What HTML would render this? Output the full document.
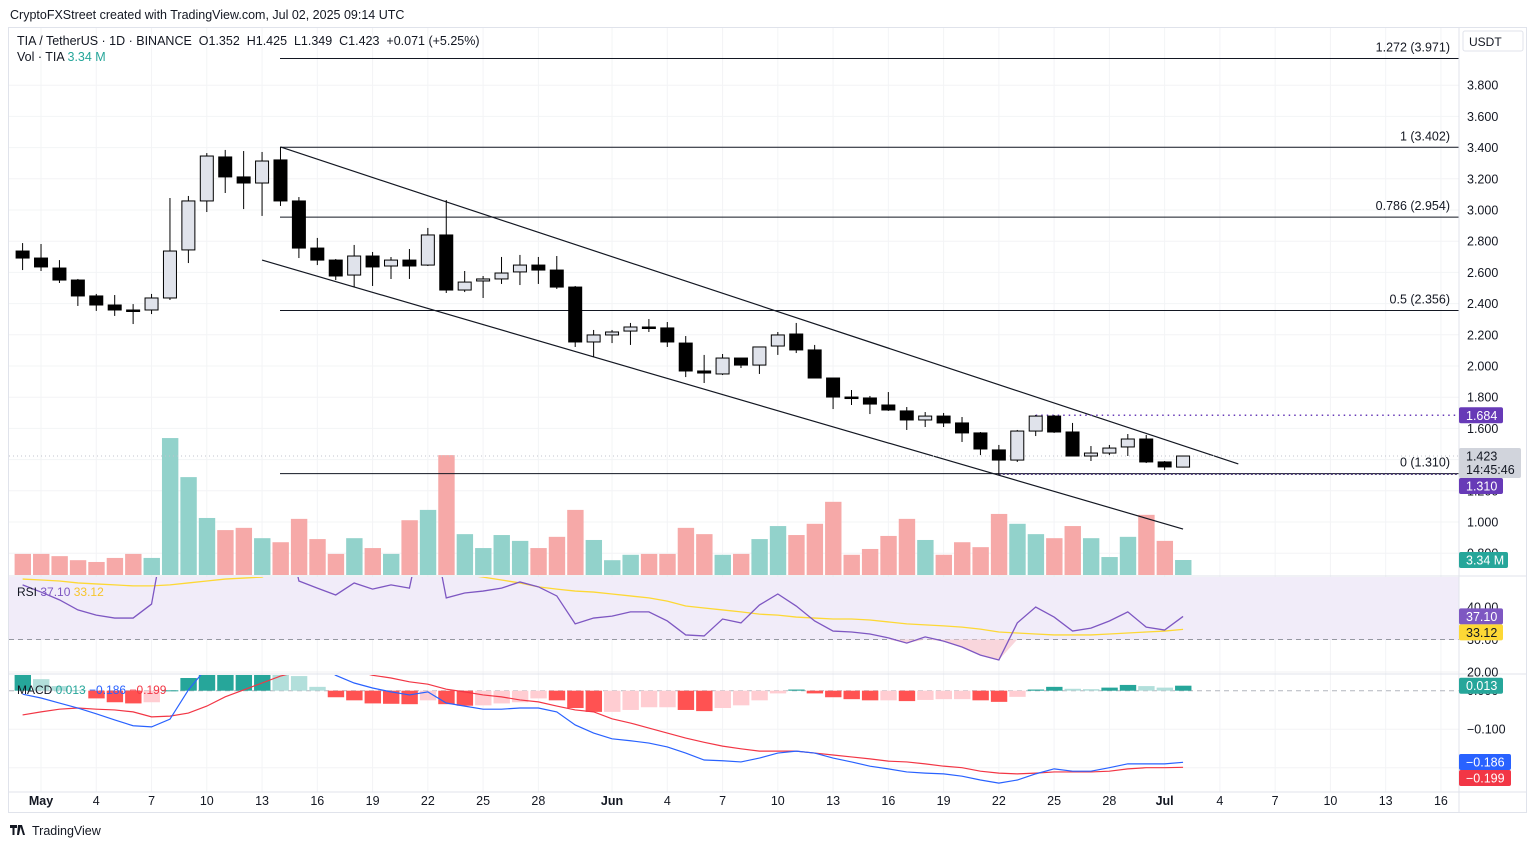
<!DOCTYPE html>
<html><head><meta charset="utf-8">
<style>
html,body{margin:0;padding:0;background:#fff;}
body{width:1536px;height:847px;overflow:hidden;font-family:"Liberation Sans",sans-serif;position:relative;}
svg text{font-family:"Liberation Sans",sans-serif;}
</style></head>
<body>
<svg id="chart" width="1536" height="847" viewBox="0 0 1536 847" xmlns="http://www.w3.org/2000/svg">
<defs>
<clipPath id="clipMain"><rect x="9" y="28" width="1450" height="548"/></clipPath>
<clipPath id="clipRsi"><rect x="9" y="577" width="1450" height="97"/></clipPath>
<clipPath id="clipMacd"><rect x="9" y="675" width="1450" height="117"/></clipPath>
</defs>
<text x="10" y="19" font-size="12.5" fill="#131722">CryptoFXStreet created with TradingView.com, Jul 02, 2025 09:14 UTC</text>
<rect x="8.5" y="27.5" width="1518" height="785" fill="none" stroke="#e0e3eb"/>
<g id="grid"></g>
<rect x="9" y="577" width="1450" height="63" fill="#f1ecf9"/>
<g id="main" clip-path="url(#clipMain)"></g>
<g id="rsi" clip-path="url(#clipRsi)"></g>
<g id="macd" clip-path="url(#clipMacd)"></g>
<line x1="1459" y1="28" x2="1459" y2="812" stroke="#e0e3eb"/>
<line x1="9" y1="576" x2="1526" y2="576" stroke="#e0e3eb"/>
<line x1="9" y1="674" x2="1526" y2="674" stroke="#e0e3eb"/>
<line x1="9" y1="792" x2="1526" y2="792" stroke="#e0e3eb"/>
<g id="axis"></g>
<text x="17" y="45" font-size="12.5" fill="#131722" xml:space="preserve">TIA / TetherUS · 1D · BINANCE  O1.352  H1.425  L1.349  C1.423  +0.071 (+5.25%)</text>
<text x="17" y="61" font-size="12.5" fill="#131722">Vol · TIA <tspan fill="#26a69a">3.34 M</tspan></text>
<text x="17" y="596" font-size="12" fill="#131722">RSI <tspan fill="#7e57c2">37.10</tspan> <tspan fill="#f7c52b">33.12</tspan></text>
<text x="17" y="694" font-size="12" fill="#131722">MACD <tspan fill="#26a69a">0.013</tspan> <tspan fill="#2962ff">−0.186</tspan> <tspan fill="#f23645">−0.199</tspan></text>
<rect x="1463" y="31" width="60" height="20" fill="#fff" stroke="#e0e3eb" rx="2"/>
<text x="1469" y="46" font-size="12" fill="#131722">USDT</text>
<g>
<path d="M10 825h7v3h-2.5v7h-2v-7H10z M18 825h3l-2 10h-2z M20 825l2 0 3 10h-2z" fill="#131722"/>
<text x="32" y="835" font-size="12.5" fill="#131722">TradingView</text>
</g>
</svg>
<script>
// ---- data ----
const dates = ["Apr30","May1","May2","May3","May4","May5","May6","May7","May8","May9","May10","May11","May12","May13","May14","May15","May16","May17","May18","May19","May20","May21","May22","May23","May24","May25","May26","May27","May28","May29","May30","May31","Jun1","Jun2","Jun3","Jun4","Jun5","Jun6","Jun7","Jun8","Jun9","Jun10","Jun11","Jun12","Jun13","Jun14","Jun15","Jun16","Jun17","Jun18","Jun19","Jun20","Jun21","Jun22","Jun23","Jun24","Jun25","Jun26","Jun27","Jun28","Jun29","Jun30","Jul1","Jul2"];
const opens = [2.737,2.692,2.628,2.551,2.449,2.391,2.359,2.359,2.436,2.744,3.058,3.340,3.212,3.173,3.321,3.058,2.756,2.679,2.583,2.705,2.641,2.679,2.647,2.840,2.487,2.545,2.558,2.603,2.647,2.615,2.506,2.154,2.199,2.224,2.250,2.244,2.147,1.968,1.949,2.051,2.006,2.128,2.205,2.103,1.923,1.801,1.795,1.750,1.712,1.654,1.679,1.635,1.571,1.462,1.397,1.583,1.679,1.577,1.423,1.442,1.481,1.532,1.385,1.352];
const highs = [2.788,2.782,2.679,2.558,2.462,2.455,2.397,2.462,3.077,3.090,3.365,3.385,3.378,3.372,3.404,3.083,2.821,2.686,2.776,2.731,2.699,2.750,2.885,3.064,2.609,2.577,2.699,2.712,2.699,2.705,2.513,2.231,2.231,2.276,2.301,2.282,2.192,2.071,2.077,2.051,2.122,2.218,2.276,2.135,1.923,1.846,1.808,1.833,1.737,1.705,1.699,1.673,1.577,1.494,1.590,1.686,1.686,1.635,1.487,1.494,1.564,1.558,1.391,1.425];
const lows = [2.615,2.609,2.532,2.385,2.353,2.321,2.269,2.333,2.423,2.660,2.987,3.109,3.006,2.962,3.026,2.692,2.647,2.551,2.506,2.513,2.558,2.558,2.641,2.468,2.474,2.436,2.526,2.519,2.526,2.494,2.122,2.058,2.147,2.135,2.218,2.122,1.929,1.891,1.942,1.987,1.949,2.071,2.083,1.923,1.724,1.750,1.692,1.712,1.590,1.609,1.609,1.513,1.429,1.301,1.385,1.551,1.571,1.423,1.391,1.429,1.423,1.378,1.333,1.349];
const closes = [2.692,2.635,2.551,2.449,2.391,2.359,2.357,2.436,2.737,3.058,3.346,3.212,3.173,3.314,3.058,2.756,2.679,2.577,2.705,2.635,2.679,2.641,2.840,2.487,2.538,2.558,2.596,2.647,2.615,2.506,2.154,2.199,2.218,2.250,2.249,2.154,1.968,1.955,2.051,2.006,2.122,2.199,2.103,1.923,1.801,1.799,1.756,1.718,1.654,1.679,1.635,1.571,1.468,1.397,1.583,1.679,1.577,1.423,1.442,1.474,1.532,1.385,1.353,1.423];
const volumes = [4.7,4.7,4.2,3.3,2.9,3.8,4.7,3.8,30.5,21.8,12.7,10.0,10.5,8.2,7.3,12.5,8.0,4.7,8.2,6.0,4.7,12.2,14.5,26.7,9.1,6.0,8.9,7.6,6.0,8.5,14.5,7.8,3.3,4.5,4.7,4.7,10.5,9.1,4.5,4.7,8.0,10.9,8.9,11.4,16.3,4.5,5.8,8.7,12.5,7.8,4.5,7.3,6.2,13.6,11.4,9.1,8.2,10.9,8.2,4.0,8.5,13.4,7.6,3.34];
const rsiValues = [46.8,44.6,42.2,39.1,37.5,36.6,36.6,40.9,72,78,80,75,73,75,74,48.0,45.8,43.7,47.4,45.5,46.8,45.8,72,42.8,44.3,44.9,45.8,47.7,46.2,43.4,34.8,36.6,37.2,38.5,38.5,35.7,31.4,31.1,36.3,35.1,40.6,44.0,40.3,35.7,32.6,32.3,31.7,30.5,28.9,30.8,29.5,27.7,25.2,23.7,35.1,40.0,36.9,32.6,33.5,35.7,38.5,33.8,32.9,37.1];
const rsiMaValues = [48.6,48.3,48.0,47.4,47.1,46.8,46.5,46.5,46.8,47.4,48.0,48.6,48.9,49.2,52,53,54,55,55,55,55,55,54,52,50,49.2,48.3,47.4,46.2,45.5,44.9,44.6,44.0,43.4,42.8,41.8,40.3,39.7,39.1,38.5,37.8,37.5,36.9,36.6,36.3,36.3,36.0,35.4,34.8,34.5,34.2,33.8,33.2,32.3,32.0,31.7,31.4,31.4,31.4,31.7,32.0,32.3,32.6,33.12];
const macdValues = [-0.009,-0.019,-0.032,-0.045,-0.06,-0.076,-0.091,-0.094,-0.074,0.002,0.06,0.09,0.11,0.12,0.12,0.10,0.07,0.04,0.02,0.007,-0.003,-0.011,-0.003,-0.032,-0.04,-0.048,-0.048,-0.045,-0.045,-0.055,-0.089,-0.11,-0.125,-0.13,-0.136,-0.146,-0.162,-0.18,-0.182,-0.185,-0.175,-0.162,-0.157,-0.162,-0.175,-0.185,-0.196,-0.203,-0.211,-0.214,-0.216,-0.222,-0.232,-0.24,-0.232,-0.216,-0.203,-0.209,-0.209,-0.2,-0.19,-0.19,-0.19,-0.186];
const signalValues = [-0.063,-0.055,-0.048,-0.045,-0.048,-0.05,-0.055,-0.068,-0.066,-0.058,-0.04,-0.016,0.002,0.02,0.038,0.05,0.055,0.055,0.052,0.04,0.033,0.023,0.017,0.004,-0.003,-0.011,-0.016,-0.024,-0.029,-0.04,-0.05,-0.055,-0.073,-0.084,-0.097,-0.11,-0.123,-0.134,-0.144,-0.151,-0.157,-0.157,-0.157,-0.162,-0.167,-0.172,-0.177,-0.183,-0.185,-0.19,-0.196,-0.2,-0.209,-0.214,-0.216,-0.214,-0.211,-0.211,-0.211,-0.209,-0.203,-0.2,-0.2,-0.199];
const histValues = [0.045,0.03,0.012,0.002,-0.02,-0.03,-0.033,-0.03,0.001,0.033,0.05,0.06,0.07,0.08,0.07,0.038,0.01,-0.017,-0.025,-0.033,-0.034,-0.035,-0.025,-0.035,-0.039,-0.038,-0.033,-0.03,-0.02,-0.025,-0.045,-0.055,-0.055,-0.05,-0.043,-0.043,-0.05,-0.053,-0.045,-0.038,-0.025,-0.007,0.003,-0.007,-0.017,-0.022,-0.025,-0.025,-0.027,-0.024,-0.022,-0.022,-0.025,-0.029,-0.016,0.003,0.01,0.005,0.004,0.008,0.015,0.012,0.008,0.013];
const priceTicks = [3.8,3.6,3.4,3.2,3.0,2.8,2.6,2.4,2.2,2.0,1.8,1.6,1.4,1.2,1.0,0.8];
const fibPrices = [3.971,3.402,2.954,2.356,1.310];
const fibLabels = ["1.272","1","0.786","0.5","0"];
const dateTickIdx = [1,4,7,10,13,16,19,22,25,28,32,35,38,41,44,47,50,53,56,59,62,65,68,71,74,77];
const dateTickLabels = ["May","4","7","10","13","16","19","22","25","28","Jun","4","7","10","13","16","19","22","25","28","Jul","4","7","10","13","16"];
const channelUpper = [[14,3.404],[66.0,1.372]];
const channelLower = [[13,2.679],[63,0.955]];
const resistance = 1.684;
const support = 1.310;

// ---- scales ----
const NS="http://www.w3.org/2000/svg";
const xi = i => 22.6 + i*18.42;
const py = p => 522 - (p-1)*156;
const vy = v => 575 - v*4.49;
const ry = v => 607 - (v-40)*3.25;
const my = v => 690.7 - v*385;
function mk(tag, attrs, parent){const e=document.createElementNS(NS,tag);for(const k in attrs)e.setAttribute(k,attrs[k]);parent.appendChild(e);return e;}
const grid=document.getElementById('grid'), main=document.getElementById('main'), rsi=document.getElementById('rsi'), macd=document.getElementById('macd'), axis=document.getElementById('axis');

// grid
priceTicks.forEach(p=>{const l=mk('line',{x1:9,x2:1459,y1:py(p),y2:py(p),stroke:'#f3f4f6'},grid);

});
dateTickIdx.forEach(i=>{const l=mk('line',{x1:xi(i),x2:xi(i),y1:28,y2:792,stroke:'#f3f4f6'},grid);

});
[40,20].forEach(v=>{mk('line',{x1:9,x2:1459,y1:ry(v),y2:ry(v),stroke:'#f0f0f3'},grid);});
[-0.1,-0.2].forEach(v=>{mk('line',{x1:9,x2:1459,y1:my(v),y2:my(v),stroke:'#f3f4f6'},grid);});

// volume
volumes.forEach((v,i)=>{const up=closes[i]>=opens[i];
const r=mk('rect',{x:xi(i)-8,y:vy(v),width:16.4,height:575-vy(v),fill:up?'#92d2cb':'#f6a9a8'},main);

});

// fib lines
fibPrices.forEach((p,k)=>{const l=mk('line',{x1:280,x2:1459,y1:py(p),y2:py(p),stroke:'#131722','stroke-width':1},main);


const t=mk('text',{x:1450,y:py(p)-7,'text-anchor':'end','font-size':12.5,fill:'#131722'},main);
t.textContent=fibLabels[k]+' ('+p.toFixed(3)+')';

});

// channel
[channelUpper,channelLower].forEach(c=>{const l=mk('line',{x1:xi(c[0][0]),y1:py(c[0][1]),x2:xi(c[1][0]),y2:py(c[1][1]),stroke:'#131722','stroke-width':1.2},main);

});
const rl=mk('line',{x1:xi(55),x2:1459,y1:py(resistance),y2:py(resistance),stroke:'#673ab7','stroke-width':1.5,'stroke-dasharray':'1.5 4'},main);


const sl=mk('line',{x1:xi(53),x2:1459,y1:py(support)+0.5,y2:py(support)+0.5,stroke:'#3c2a6b','stroke-width':1.5,'stroke-dasharray':'2 2'},main);


mk('line',{x1:9,x2:1459,y1:py(closes[63]),y2:py(closes[63]),stroke:'#c0c3cc','stroke-dasharray':'1 3'},main);

// candles
opens.forEach((o,i)=>{const c=closes[i],x=xi(i);const g=mk('g',{},main);


mk('line',{x1:x,x2:x,y1:py(highs[i]),y2:py(lows[i]),stroke:'#000','stroke-width':1},g);
const top=py(Math.max(o,c)),bot=py(Math.min(o,c));
mk('rect',{x:x-6.5,y:top,width:13,height:Math.max(1.5,bot-top),fill:c>=o?'#e0e3eb':'#000',stroke:'#000','stroke-width':1},g);});

// RSI
mk('line',{x1:9,x2:1459,y1:ry(30),y2:ry(30),stroke:'#9598a1','stroke-dasharray':'5 4'},rsi);
let below='M'+xi(0)+' '+ry(30);rsiValues.forEach((v,i)=>{below+=' L'+xi(i)+' '+ry(Math.min(v,30));});below+=' L'+xi(63)+' '+ry(30)+'Z';
const bf=mk('path',{d:below,fill:'#f9d6dc'},rsi);


const rsiMaLine=mk('polyline',{points:rsiMaValues.map((v,i)=>xi(i)+','+ry(v)).join(' '),fill:'none',stroke:'#fdd835','stroke-width':1.3},rsi);


const rsiLine=mk('polyline',{points:rsiValues.map((v,i)=>xi(i)+','+ry(v)).join(' '),fill:'none',stroke:'#7e57c2','stroke-width':1.3},rsi);



// MACD
mk('line',{x1:9,x2:1459,y1:my(0),y2:my(0),stroke:'#b2b5be','stroke-dasharray':'5 4'},macd);
histValues.forEach((h,i)=>{const prev=i>0?histValues[i-1]:h;let col;
if(h>=0)col=h>=prev?'#26a69a':'#b2dfdb';else col=h<prev?'#ff5252':'#ffcdd2';
const y1=my(Math.max(h,0)),y2=my(Math.min(h,0));
const r=mk('rect',{x:xi(i)-8,y:y1,width:16.4,height:Math.max(1,y2-y1),fill:col},macd);

});
const sig=mk('polyline',{points:signalValues.map((v,i)=>xi(i)+','+my(v)).join(' '),fill:'none',stroke:'#f23645','stroke-width':1.2},macd);


const ml=mk('polyline',{points:macdValues.map((v,i)=>xi(i)+','+my(v)).join(' '),fill:'none',stroke:'#2962ff','stroke-width':1.2},macd);



// axes
priceTicks.forEach(p=>{const t=mk('text',{x:1467,y:py(p)+4.5,'font-size':12.5,fill:'#131722'},axis);t.textContent=p.toFixed(3);

});
[[40,'40.00'],[30,'30.00'],[20,'20.00']].forEach(a=>{const t=mk('text',{x:1467,y:ry(a[0])+4.5,'font-size':12.5,fill:'#131722'},axis);t.textContent=a[1];

});
[[0,'0.000'],[-0.1,'−0.100']].forEach(a=>{const t=mk('text',{x:1467,y:my(a[0])+4.5,'font-size':12.5,fill:'#131722'},axis);t.textContent=a[1];

});
dateTickIdx.forEach((i,k)=>{const lb=dateTickLabels[k];const t=mk('text',{x:xi(i),y:805,'text-anchor':'middle','font-size':12.5,fill:'#131722','font-weight':isNaN(+lb)?'bold':'normal'},axis);t.textContent=lb;

});
function tag(y,txt,bg,fg,h,name){const g=mk('g',{},axis);


mk('rect',{x:1459,y:y-8,width:44,height:h||16,fill:bg,rx:2},g);
const t=mk('text',{x:1466,y:y+4.5,'font-size':12.5,fill:fg},g);t.textContent=txt;return g;}
tag(py(resistance),'1.684','#673ab7','#fff',16,'resistance-price-tag');
const cg=tag(py(closes[63]),'1.423','#d1d4dc','#131722',30,'last-price-tag');
const ct=mk('text',{x:1466,y:py(closes[63])+18,'font-size':12.5,fill:'#131722'},cg);ct.textContent='14:45:46';
cg.firstChild.setAttribute('width',62);
tag(486,'1.310','#673ab7','#fff',16,'support-price-tag');
tag(vy(volumes[63]),'3.34 M','#26a69a','#fff',16,'volume-tag').firstChild.setAttribute('width',49);
tag(ry(rsiValues[63]),'37.10','#7e57c2','#fff',16,'rsi-value-tag');
tag(ry(rsiValues[63])+16,'33.12','#fdd835','#131722',16,'rsi-ma-tag');
tag(my(histValues[63]),'0.013','#26a69a','#fff',16,'macd-hist-tag');
tag(762,'−0.186','#2962ff','#fff',16,'macd-value-tag').firstChild.setAttribute('width',52);
tag(778,'−0.199','#f23645','#fff',16,'macd-signal-tag').firstChild.setAttribute('width',52);
</script>
</body></html>
